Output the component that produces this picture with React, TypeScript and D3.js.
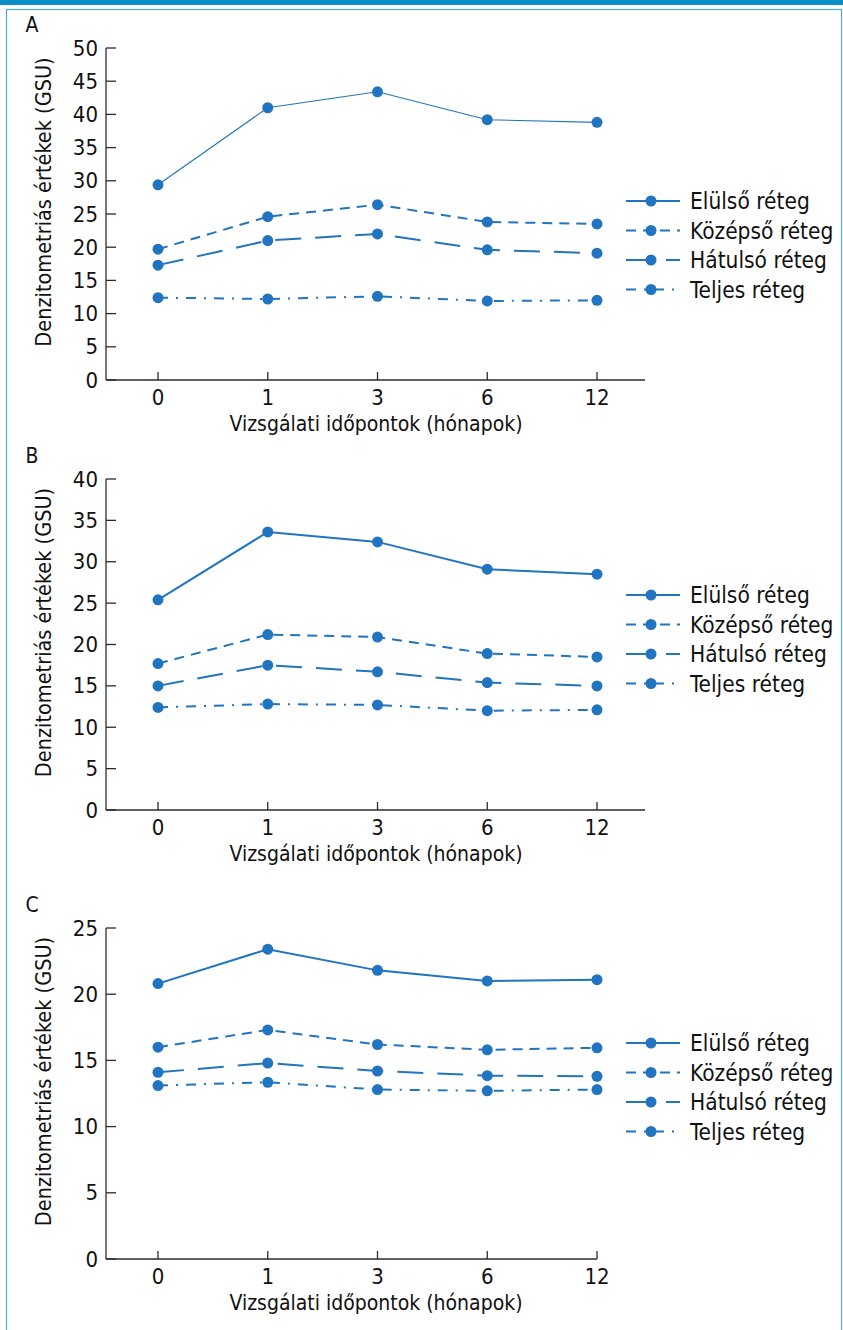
import React from "react";
import * as d3 from "d3";

const timepoints = ["0", "1", "3", "6", "12"];
const seriesNames = ["Elülső réteg", "Középső réteg", "Hátulsó réteg", "Teljes réteg"];

// Panel A
const aElulso = [29.4, 41.0, 43.4, 39.2, 38.8];
const aKozepso = [19.7, 24.6, 26.4, 23.8, 23.5];
const aHatulso = [17.3, 21.0, 22.0, 19.6, 19.1];
const aTeljes = [12.4, 12.2, 12.6, 11.9, 12.0];
// Panel B
const bElulso = [25.4, 33.6, 32.4, 29.1, 28.5];
const bKozepso = [17.7, 21.2, 20.9, 18.9, 18.5];
const bHatulso = [15.0, 17.5, 16.7, 15.4, 15.0];
const bTeljes = [12.4, 12.8, 12.7, 12.0, 12.1];
// Panel C
const cElulso = [20.8, 23.4, 21.8, 21.0, 21.1];
const cKozepso = [16.0, 17.3, 16.2, 15.8, 15.95];
const cHatulso = [14.1, 14.8, 14.2, 13.85, 13.8];
const cTeljes = [13.1, 13.35, 12.8, 12.7, 12.8];

const yMaxA = 50;
const yMaxB = 40;
const yMaxC = 25;
const yTickStep = 5;

const xTitle = "Vizsgálati időpontok (hónapok)";
const yTitle = "Denzitometriás értékek (GSU)";

const COLOR = "#2174bf";
const AXIS = "#2b2b2b";
const FONT = "'DejaVu Sans Condensed', 'DejaVu Sans', sans-serif";
const dashes = [null, "10,7", "26,14", "10,8,2,8"];

type PanelProps = {
  letter: string;
  top: number;
  bottom: number;
  yMax: number;
  axisEnd: number;
  legendTop: number;
  data: number[][];
  firstWidth: number;
};

function Panel({ letter, top, bottom, yMax, axisEnd, legendTop, data, firstWidth }: PanelProps) {
  const axisX = 106;
  const y = d3.scaleLinear().domain([0, yMax]).range([bottom, top]);
  const x = d3.scalePoint<string>().domain(timepoints).range([158, 597]);
  const yTicks = d3.range(0, yMax + 0.001, yTickStep);
  const line = d3
    .line<number>()
    .x((_, i) => x(timepoints[i]) as number)
    .y((d) => y(d));
  return (
    <g>
      <text x={32} y={top - 23} fontSize={21} fontFamily={FONT} textAnchor="middle" dominantBaseline="central" fill="#111">
        {letter}
      </text>
      {/* y axis */}
      <line x1={axisX} x2={axisX} y1={top} y2={bottom} stroke={AXIS} strokeWidth={1.3} />
      {yTicks.map((t) => (
        <g key={t}>
          <line x1={axisX} x2={axisX + 10} y1={y(t)} y2={y(t)} stroke={AXIS} strokeWidth={1.3} />
          <text x={98} y={y(t)} fontSize={22} fontFamily={FONT} textAnchor="end" dominantBaseline="central" fill="#111">
            {t}
          </text>
        </g>
      ))}
      {/* x axis */}
      <line x1={axisX} x2={axisEnd} y1={bottom} y2={bottom} stroke={AXIS} strokeWidth={1.3} />
      {timepoints.map((tp) => (
        <g key={tp}>
          <line x1={x(tp)} x2={x(tp)} y1={bottom} y2={bottom - 8} stroke={AXIS} strokeWidth={1.3} />
          <text x={x(tp)} y={bottom + 17} fontSize={22} fontFamily={FONT} textAnchor="middle" dominantBaseline="central" fill="#111">
            {tp}
          </text>
        </g>
      ))}
      <text x={376} y={bottom + 44} fontSize={21} fontFamily={FONT} textAnchor="middle" dominantBaseline="central" fill="#111">
        {xTitle}
      </text>
      <text
        transform={`translate(43,${(top + bottom) / 2 - 12}) rotate(-90)`}
        fontSize={21.5}
        fontFamily={FONT}
        textAnchor="middle"
        dominantBaseline="central"
        fill="#111"
      >
        {yTitle}
      </text>
      {/* series */}
      {data.map((vals, si) => (
        <g key={si}>
          <path
            d={line(vals) || ""}
            fill="none"
            stroke={COLOR}
            strokeWidth={si === 0 ? firstWidth : 2}
            strokeDasharray={dashes[si] || undefined}
          />
          {vals.map((v, i) => (
            <circle key={i} cx={x(timepoints[i])} cy={y(v)} r={5.5} fill={COLOR} />
          ))}
        </g>
      ))}
      {/* legend */}
      {seriesNames.map((name, si) => {
        const ly = legendTop + si * 29.5;
        return (
          <g key={name}>
            <line x1={626} x2={680} y1={ly} y2={ly} stroke={COLOR} strokeWidth={2} strokeDasharray={dashes[si] || undefined} />
            <circle cx={651} cy={ly} r={5.5} fill={COLOR} />
            <text x={690} y={ly} fontSize={22.5} fontFamily={FONT} dominantBaseline="central" fill="#111">
              {name}
            </text>
          </g>
        );
      })}
    </g>
  );
}

export default function App() {
  return (
    <svg width={843} height={1330} style={{ position: "absolute", left: 0, top: 0, background: "#fff" }}>
      <rect x={0} y={0} width={843} height={5} fill="#0a8ec6" />
      <rect x={6.5} y={9.5} width={835} height={1330} fill="none" stroke="#4aaedb" strokeWidth={1.2} />
      <Panel letter="A" top={48} bottom={380} yMax={yMaxA} axisEnd={645} legendTop={201} data={[aElulso, aKozepso, aHatulso, aTeljes]} firstWidth={1.1} />
      <Panel letter="B" top={479} bottom={810} yMax={yMaxB} axisEnd={645} legendTop={595} data={[bElulso, bKozepso, bHatulso, bTeljes]} firstWidth={2} />
      <Panel letter="C" top={928} bottom={1259} yMax={yMaxC} axisEnd={597} legendTop={1043} data={[cElulso, cKozepso, cHatulso, cTeljes]} firstWidth={2} />
    </svg>
  );
}
